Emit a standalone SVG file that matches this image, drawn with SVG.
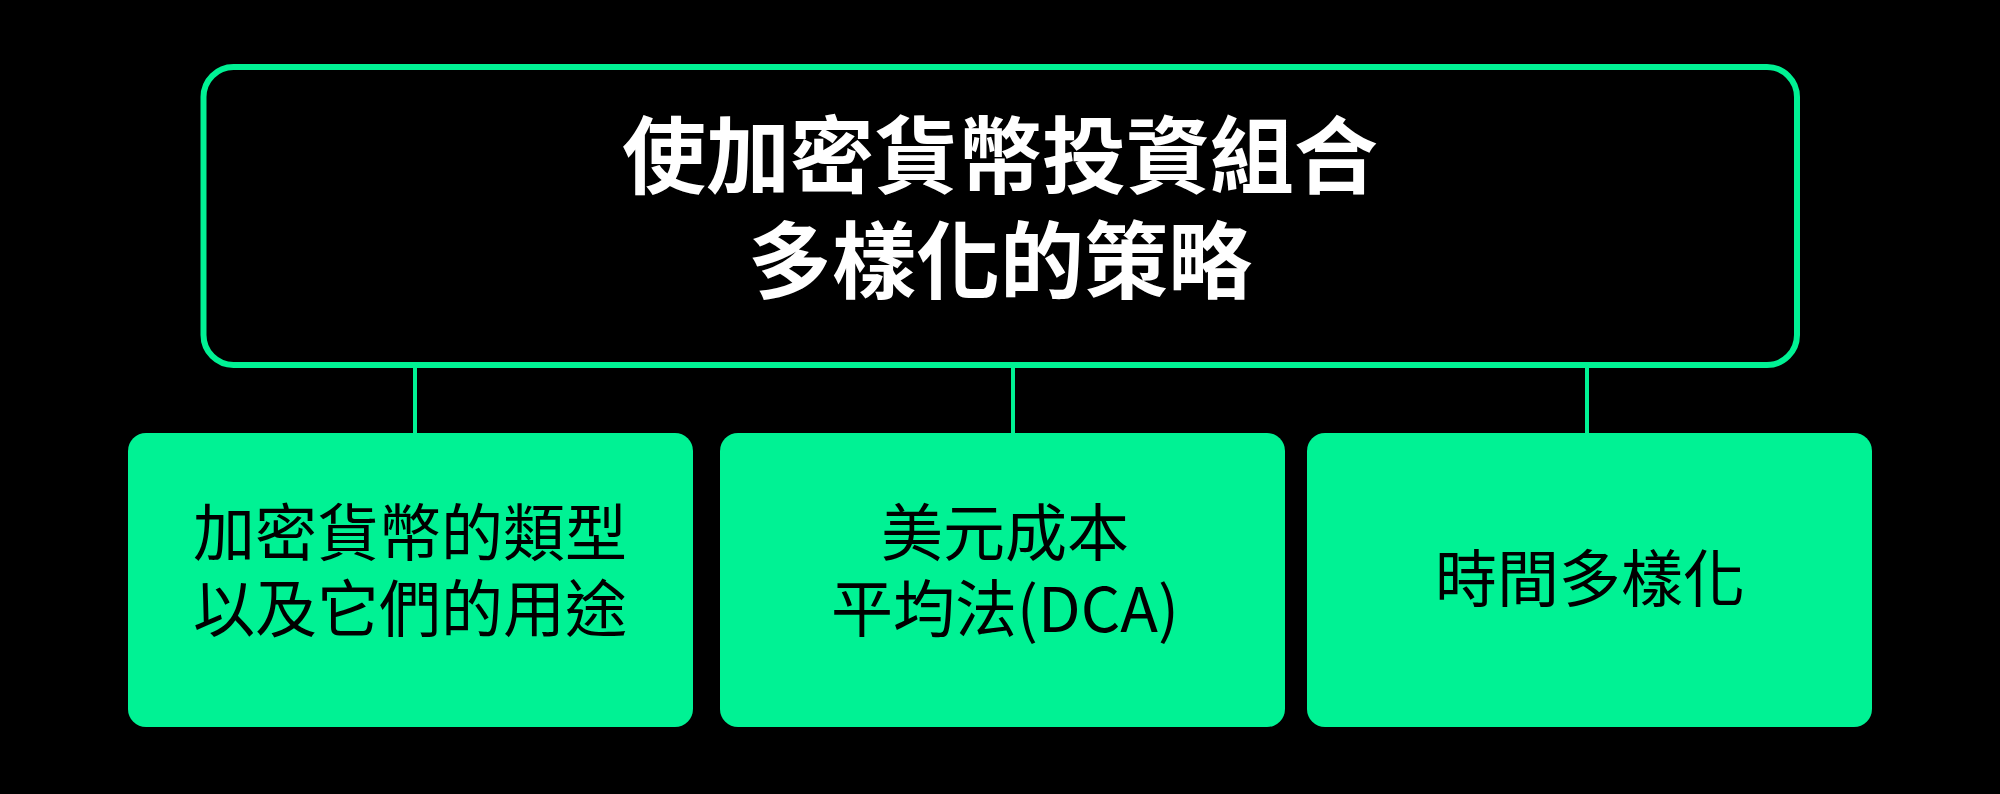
<svg xmlns="http://www.w3.org/2000/svg" width="2000" height="794" viewBox="0 0 2000 794">
<style>
.bg{fill:#000}
.root{fill:#000;stroke:#00F294;stroke-width:6}
.child{fill:#00F294}
.conn{stroke:#00F294;stroke-width:4;fill:none}
.t{font-family:"Noto Sans CJK TC","Noto Sans CJK SC",sans-serif;text-anchor:middle}
.title{fill:#fff;font-weight:700;font-size:84px}
.label{fill:#000;font-weight:400;font-size:62px}
</style>
<rect class="bg" x="0" y="0" width="2000" height="794"/>
<g id="connectors">
<line class="conn" x1="415" y1="368" x2="415" y2="434"/>
<line class="conn" x1="1013" y1="368" x2="1013" y2="434"/>
<line class="conn" x1="1587" y1="368" x2="1587" y2="434"/>
</g>
<g id="root">
<rect class="root" x="203.5" y="67" width="1593.5" height="298" rx="30" ry="30"/>
<text class="t title" x="1000" y="187">使加密貨幣投資組合</text>
<text class="t title" x="1000" y="292">多樣化的策略</text>
</g>
<g id="node1">
<rect class="child" x="128" y="433" width="565" height="294" rx="18" ry="18"/>
<text class="t label" x="410" y="556">加密貨幣的類型</text>
<text class="t label" x="410" y="632">以及它們的用途</text>
</g>
<g id="node2">
<rect class="child" x="720" y="433" width="565" height="294" rx="18" ry="18"/>
<text class="t label" x="1005" y="556">美元成本</text>
<text class="t label" x="1005" y="632">平均法(DCA)</text>
</g>
<g id="node3">
<rect class="child" x="1307" y="433" width="565" height="294" rx="18" ry="18"/>
<text class="t label" x="1590" y="602">時間多樣化</text>
</g>
</svg>
